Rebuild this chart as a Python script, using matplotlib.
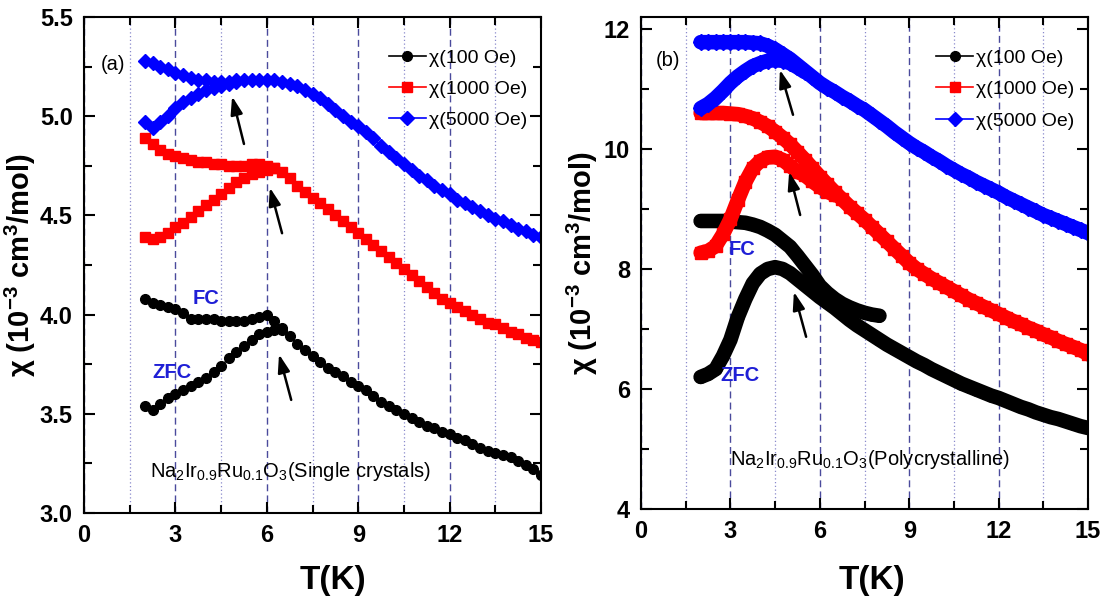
import matplotlib
matplotlib.use("Agg")
import matplotlib.pyplot as plt
from matplotlib.lines import Line2D
from matplotlib.ticker import MultipleLocator, FormatStrFormatter

plt.rcParams['font.family'] = ['Liberation Sans', 'DejaVu Sans']
plt.rcParams['mathtext.default'] = 'regular'

# ---- panel (a): single crystals, T step 0.25 K ----
T_a = [2.00, 2.25, 2.50, 2.75, 3.00, 3.25, 3.50, 3.75, 4.00, 4.25, 4.50, 4.75, 5.00,
       5.25, 5.50, 5.75, 6.00, 6.25, 6.50, 6.75, 7.00, 7.25, 7.50, 7.75, 8.00, 8.25,
       8.50, 8.75, 9.00, 9.25, 9.50, 9.75, 10.00, 10.25, 10.50, 10.75, 11.00, 11.25,
       11.50, 11.75, 12.00, 12.25, 12.50, 12.75, 13.00, 13.25, 13.50, 13.75, 14.00,
       14.25, 14.50, 14.75, 15.00]

a_100_fc = [4.08, 4.06, 4.05, 4.04, 4.03, 4.01, 3.98, 3.98, 3.98, 3.98, 3.97, 3.97, 3.97,
            3.97, 3.98, 3.99, 4.00, 3.97, 3.93, 3.89, 3.85, 3.82, 3.79, 3.76, 3.73, 3.71,
            3.69, 3.66, 3.64, 3.62, 3.59, 3.56, 3.54, 3.52, 3.50, 3.48, 3.46, 3.44,
            3.43, 3.41, 3.40, 3.38, 3.37, 3.35, 3.33, 3.31, 3.30, 3.29, 3.28,
            3.26, 3.24, 3.22, 3.19]
a_1000_fc = [4.89, 4.86, 4.83, 4.81, 4.80, 4.79, 4.78, 4.77, 4.77, 4.76, 4.76, 4.75, 4.75,
             4.75, 4.76, 4.76, 4.75, 4.74, 4.72, 4.69, 4.65, 4.62, 4.59, 4.56, 4.53, 4.50,
             4.47, 4.44, 4.41, 4.38, 4.35, 4.32, 4.29, 4.26, 4.23, 4.20, 4.17, 4.14,
             4.11, 4.08, 4.06, 4.04, 4.02, 4.00, 3.98, 3.96, 3.95, 3.93, 3.91,
             3.90, 3.88, 3.87, 3.86]
a_5000_fc = [5.28, 5.27, 5.25, 5.24, 5.22, 5.21, 5.19, 5.18, 5.18, 5.17, 5.17, 5.17, 5.18,
             5.18, 5.18, 5.18, 5.18, 5.18, 5.17, 5.16, 5.15, 5.13, 5.11, 5.09, 5.06, 5.03,
             5.00, 4.97, 4.95, 4.92, 4.89, 4.85, 4.82, 4.79, 4.76, 4.73, 4.70, 4.68,
             4.65, 4.63, 4.61, 4.58, 4.56, 4.54, 4.52, 4.50, 4.48, 4.47, 4.45,
             4.43, 4.42, 4.40, 4.39]

T_a_zfc100 = [2.00, 2.25, 2.50, 2.75, 3.00, 3.25, 3.50, 3.75, 4.00, 4.25, 4.50, 4.75,
              5.00, 5.25, 5.50, 5.75, 6.00, 6.25, 6.50]
a_100_zfc = [3.54, 3.52, 3.55, 3.58, 3.60, 3.62, 3.64, 3.66, 3.68, 3.71, 3.74, 3.78,
             3.81, 3.84, 3.87, 3.90, 3.91, 3.92, 3.92]
T_a_zfc1000 = [2.00, 2.25, 2.50, 2.75, 3.00, 3.25, 3.50, 3.75, 4.00, 4.25, 4.50, 4.75,
               5.00, 5.25, 5.50, 5.75, 6.00, 6.25]
a_1000_zfc = [4.39, 4.38, 4.39, 4.41, 4.44, 4.46, 4.49, 4.52, 4.55, 4.58, 4.61, 4.64,
              4.67, 4.69, 4.71, 4.72, 4.73, 4.74]
T_a_zfc5000 = [2.00, 2.25, 2.50, 2.75, 3.00, 3.25, 3.50, 3.75, 4.00, 4.25, 4.50, 4.75, 5.00]
a_5000_zfc = [4.97, 4.94, 4.97, 5.00, 5.04, 5.07, 5.09, 5.11, 5.13, 5.14, 5.15, 5.16, 5.17]

# ---- panel (b): polycrystalline ----
T_b = T_a
b_100_zfc = [6.20, 6.25, 6.33, 6.55, 6.82, 7.20, 7.50, 7.76, 7.92, 8.00, 8.03, 8.00, 7.93,
             7.83, 7.73, 7.63, 7.53, 7.44, 7.35, 7.25, 7.15, 7.06, 6.98, 6.90, 6.82, 6.74,
             6.67, 6.60, 6.53, 6.46, 6.40, 6.33, 6.27, 6.21, 6.15, 6.09, 6.04, 5.99,
             5.94, 5.89, 5.85, 5.80, 5.75, 5.70, 5.66, 5.61, 5.57, 5.53, 5.50,
             5.46, 5.42, 5.38, 5.35]
b_1000_fc = [10.60, 10.60, 10.60, 10.60, 10.59, 10.58, 10.55, 10.51, 10.45, 10.38, 10.29,
             10.19, 10.08, 9.95, 9.82, 9.68, 9.54, 9.41, 9.28, 9.16, 9.04, 8.93, 8.82,
             8.70, 8.58, 8.46, 8.34, 8.22, 8.10, 8.00, 7.92, 7.84, 7.77, 7.70, 7.63,
             7.56, 7.49, 7.43, 7.37, 7.31, 7.25, 7.19, 7.13, 7.08, 7.02, 6.97, 6.91,
             6.86, 6.80, 6.75, 6.70, 6.65, 6.58]
b_5000_fc = [11.78, 11.78, 11.78, 11.78, 11.78, 11.78, 11.78, 11.77, 11.76, 11.72, 11.66,
             11.58, 11.50, 11.40, 11.30, 11.20, 11.10, 11.02, 10.95, 10.87, 10.80, 10.72,
             10.65, 10.56, 10.47, 10.38, 10.28, 10.19, 10.10, 10.02, 9.95, 9.87, 9.80,
             9.72, 9.65, 9.58, 9.52, 9.45, 9.39, 9.33, 9.27, 9.20, 9.14, 9.08, 9.02,
             8.96, 8.90, 8.85, 8.80, 8.75, 8.70, 8.65, 8.60]

T_b_fc100 = [2.00, 2.25, 2.50, 2.75, 3.00, 3.25, 3.50, 3.75, 4.00, 4.25, 4.50, 4.75, 5.00,
             5.25, 5.50, 5.75, 6.00, 6.25, 6.50, 6.75, 7.00, 7.25, 7.50, 7.75, 8.00]
b_100_fc = [8.80, 8.80, 8.80, 8.80, 8.79, 8.78, 8.77, 8.74, 8.70, 8.64, 8.57, 8.47, 8.37,
            8.22, 8.06, 7.90, 7.72, 7.60, 7.50, 7.42, 7.36, 7.31, 7.27, 7.24, 7.22]
T_b_zfc1000 = [2.00, 2.25, 2.50, 2.75, 3.00, 3.25, 3.50, 3.75, 4.00, 4.25, 4.50, 4.75,
               5.00, 5.25, 5.50, 5.75, 6.00, 6.25, 6.50]
b_1000_zfc = [8.27, 8.30, 8.38, 8.58, 8.83, 9.15, 9.45, 9.68, 9.80, 9.86, 9.87, 9.82,
              9.72, 9.62, 9.56, 9.46, 9.37, 9.29, 9.23]
T_b_zfc5000 = [2.00, 2.25, 2.50, 2.75, 3.00, 3.25, 3.50, 3.75, 4.00, 4.25, 4.50, 4.75,
               5.00, 5.25, 5.50]
b_5000_zfc = [10.68, 10.75, 10.85, 10.97, 11.10, 11.21, 11.30, 11.38, 11.43, 11.47, 11.48,
              11.47, 11.43, 11.36, 11.28]

legend_labels = ['χ(100 Oe)', 'χ(1000 Oe)', 'χ(5000 Oe)']
colors = ['black', '#ff0000', '#0000ff']
markers = ['o', 's', 'D']
label_blue = '#1f1fd6'


def style_axes(ax, ylim, ymajor, yminor, ylab_x, xlab_x, xlab_y):
    ax.set_xlim(0, 15)
    ax.set_ylim(*ylim)
    ax.xaxis.set_major_locator(MultipleLocator(3))
    ax.xaxis.set_minor_locator(MultipleLocator(1.5))
    ax.yaxis.set_major_locator(MultipleLocator(ymajor))
    ax.yaxis.set_minor_locator(MultipleLocator(yminor))
    ax.tick_params(which='both', direction='in', top=True, right=True, width=1.5)
    ax.tick_params(which='major', length=8, pad=8, labelsize=17)
    ax.tick_params(which='minor', length=5.5)
    for sp in ax.spines.values():
        sp.set_linewidth(1.5)
    ax.set_axisbelow(True)
    ax.grid(True, which='major', axis='x', color='#4a4a9c', lw=1, ls=(0, (5, 3)))
    ax.grid(True, which='minor', axis='x', color='#8a8acc', lw=0.9, ls=(0, (1, 2)))
    ax.set_xlabel('T(K)', fontsize=24, fontweight='bold')
    ax.xaxis.set_label_coords(xlab_x, xlab_y)
    ax.set_ylabel('χ (10$^{-3}$ cm$^{3}$/mol)', fontsize=21, fontweight='bold')
    ax.yaxis.set_label_coords(ylab_x, 0.5)


def bold_ticks(ax):
    for lab in ax.get_xticklabels() + ax.get_yticklabels():
        lab.set_fontweight('bold')


def add_legend(ax, anchor):
    handles = [Line2D([], [], color=c, marker=m, ms=7, lw=1.2) for c, m in zip(colors, markers)]
    ax.legend(handles, legend_labels, loc='upper right', bbox_to_anchor=anchor,
              frameon=False, fontsize=14, handlelength=1.9, handletextpad=0.15,
              labelspacing=0.7, borderaxespad=0, borderpad=0)


def arrow(ax, tail, head):
    ax.annotate('', xy=head, xytext=tail,
                arrowprops=dict(arrowstyle='-|>,head_length=0.9,head_width=0.3',
                                mutation_scale=12, color='black', lw=1.8,
                                shrinkA=0, shrinkB=0), zorder=5)


fig = plt.figure(figsize=(11.1, 6.04), dpi=100)
ax1 = fig.add_axes([0.0757, 0.1507, 0.4117, 0.8212])
ax2 = fig.add_axes([0.5775, 0.1573, 0.4027, 0.8146])

# panel (a)
ax1.plot(T_a, a_100_fc, color='black', marker='o', ms=7, lw=1)
ax1.plot(T_a_zfc100, a_100_zfc, color='black', marker='o', ms=7, lw=1)
ax1.plot(T_a, a_1000_fc, color='#ff0000', marker='s', ms=6.5, lw=1)
ax1.plot(T_a_zfc1000, a_1000_zfc, color='#ff0000', marker='s', ms=6.5, lw=1)
ax1.plot(T_a, a_5000_fc, color='#0000ff', marker='D', ms=7, lw=1)
ax1.plot(T_a_zfc5000, a_5000_zfc, color='#0000ff', marker='D', ms=7, lw=1)
style_axes(ax1, (3.0, 5.5), 0.5, 0.25, -0.1, 0.545, -0.105)
ax1.yaxis.set_major_formatter(FormatStrFormatter('%.1f'))
bold_ticks(ax1)
add_legend(ax1, (0.969, 0.935))
ax1.text(0.95, 5.26, '(a)', fontsize=14.5, ha='center', va='center')
ax1.text(4.0, 4.08, 'FC', fontsize=14.5, fontweight='bold', color=label_blue,
         ha='center', va='center')
ax1.text(2.9, 3.71, 'ZFC', fontsize=14.5, fontweight='bold', color=label_blue,
         ha='center', va='center')
ax1.text(2.17, 3.18, 'Na$_{2}$Ir$_{0.9}$Ru$_{0.1}$O$_{3}$(Single crystals)', fontsize=14.5,
         ha='left', va='baseline')
arrow(ax1, (5.25, 4.86), (4.86, 5.10))
arrow(ax1, (6.5, 4.41), (6.1, 4.64))
arrow(ax1, (6.8, 3.57), (6.4, 3.80))

# panel (b)
band = dict(lw=10.5, ms=8, solid_capstyle='round', solid_joinstyle='round')
ax2.plot(T_b, b_100_zfc, color='black', marker='o', **band)
ax2.plot(T_b_fc100, b_100_fc, color='black', marker='o', **band)
ax2.plot(T_b_zfc1000, b_1000_zfc, color='#ff0000', marker='s', **band)
ax2.plot(T_b, b_1000_fc, color='#ff0000', marker='s', **band)
ax2.plot(T_b_zfc5000, b_5000_zfc, color='#0000ff', marker='D', **band)
ax2.plot(T_b, b_5000_fc, color='#0000ff', marker='D', **band)
style_axes(ax2, (4, 12.2), 2, 1, -0.092, 0.517, -0.114)
bold_ticks(ax2)
add_legend(ax2, (0.969, 0.934))
ax2.text(0.9, 11.48, '(b)', fontsize=14.5, ha='center', va='center')
ax2.text(3.39, 8.33, 'FC', fontsize=14.5, fontweight='bold', color=label_blue,
         ha='center', va='center')
ax2.text(3.32, 6.22, 'ZFC', fontsize=14.5, fontweight='bold', color=label_blue,
         ha='center', va='center')
ax2.text(2.99, 4.73, 'Na$_{2}$Ir$_{0.9}$Ru$_{0.1}$O$_{3}$(Polycrystalline)', fontsize=14.5,
         ha='left', va='baseline')
arrow(ax2, (5.1, 10.57), (4.66, 11.32))
arrow(ax2, (5.34, 8.9), (4.97, 9.62))
arrow(ax2, (5.54, 6.87), (5.13, 7.62))

fig.savefig('out.png', dpi=100)
